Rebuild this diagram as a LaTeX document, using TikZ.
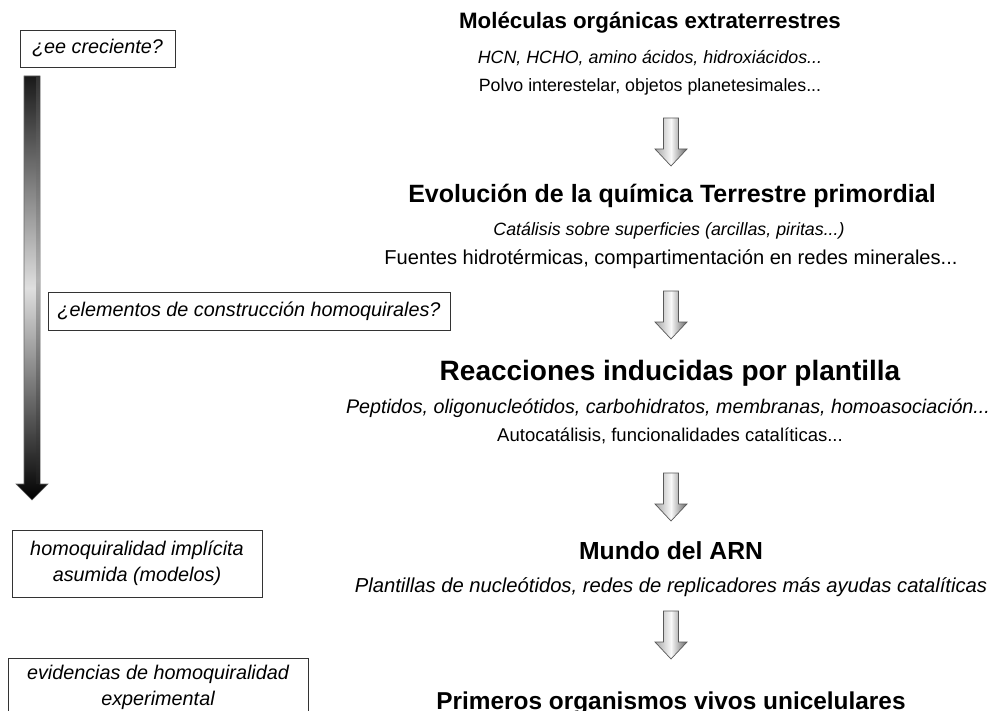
\documentclass[tikz,border=0pt]{standalone}
\usepackage{fontspec}
\setmainfont{Liberation Sans}

\begin{document}
\begin{tikzpicture}
	[x=1pt,y=-1pt,
		titulo/.style={font=\fontsize{#1}{#1}\selectfont\bfseries, inner sep=0pt},
		titulo/.default=25,
		linea/.style={font=\fontsize{#1}{#1}\selectfont, inner sep=0pt},
		linea/.default=17.8,
		lineait/.style={font=\fontsize{#1}{#1}\selectfont\itshape, inner sep=0pt},
		lineait/.default=17.8,
		caja/.style={draw=black!80, line width=0.9pt, align=center, inner sep=0pt,
			font=\fontsize{19.8}{26}\selectfont\itshape},
		flecha/.pic={
			\path[draw=black!65, line width=0.7pt, left color=gray!70, right color=black!60, middle color=gray!5]
			(-7.5,0) -- (7.5,0) -- (7.5,31) -- (16,31) -- (0,48) -- (-16,31) -- (-7.5,31) -- cycle;
		}]

	\useasboundingbox (0,0) rectangle (998,711);

	% columna central
	\node[titulo=22.3] (mol)  at (650,23)  {Moléculas orgánicas extraterrestres};
	\node[lineait]     (molA) at (650,58)  {HCN, HCHO, amino ácidos, hidroxiácidos...};
	\node[linea]       (molB) at (650,87)  {Polvo interestelar, objetos planetesimales...};

	\node[titulo]      (evo)  at (672,196) {Evolución de la química Terrestre primordial};
	\node[lineait]     (evoA) at (669,231) {Catálisis sobre superficies (arcillas, piritas...)};
	\node[linea=20.1]  (evoB) at (671,259) {Fuentes hidrotérmicas, compartimentación en redes minerales...};

	\node[titulo=28]   (rea)  at (670,373) {Reacciones inducidas por plantilla};
	\node[lineait=19.7] (reaA) at (668,408) {Peptidos, oligonucleótidos, carbohidratos, membranas, homoasociación...};
	\node[linea=18.5]  (reaB) at (670,436) {Autocatálisis, funcionalidades catalíticas...};

	\node[titulo=24.7] (arn)  at (671,551) {Mundo del ARN};
	\node[lineait=20.2] (arnA) at (671,587) {Plantillas de nucleótidos, redes de replicadores más ayudas catalíticas};

	\node[titulo=24.4, anchor=base] (vida) at (671,709) {Primeros organismos vivos unicelulares};

	% flechas entre etapas
	\foreach \y in {118,291,473,611}
		\pic at (671,\y) {flecha};

	% columna izquierda
	\node[caja, minimum width=155, minimum height=37] (ee)   at (97.5,48.5)  {¿ee creciente?};
	\node[caja, minimum width=402, minimum height=38] (elem) at (249,311)    {¿elementos de construcción homoquirales?};
	\node[caja, minimum width=250, minimum height=67] (impl) at (137,563.5)  {homoquiralidad implícita\\asumida (modelos)};
	\node[caja, minimum width=300, minimum height=58, anchor=north] (evid) at (158,658) {evidencias de homoquiralidad\\experimental};

	\path[draw=black!60, line width=0.6pt, top color=black!90, bottom color=black, middle color=gray!25]
	(24,76) -- (40,76) -- (40,484) -- (48,484) -- (32,500) -- (16,484) -- (24,484) -- cycle;
	\path[top color=black!80, bottom color=black!90, middle color=gray!60]
	(36,77) rectangle (39.5,483);

\end{tikzpicture}
\end{document}
